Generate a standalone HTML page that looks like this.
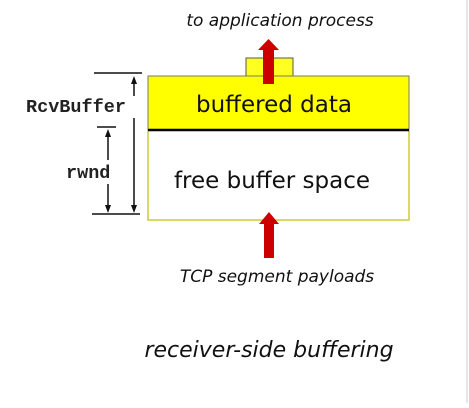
<!DOCTYPE html>
<html><head><style>
body{margin:0;background:#fff;width:469px;height:403px;overflow:hidden}
</style></head><body>
<svg width="469" height="403" xmlns="http://www.w3.org/2000/svg">
<line x1="467" y1="0" x2="467" y2="403" stroke="#ddd" stroke-width="1.5"/>
<text x="280" y="26" text-anchor="middle" font-family="DejaVu Sans, sans-serif" font-style="italic" font-size="17" fill="#111">to application process</text>
<rect x="246" y="58" width="47" height="19" fill="#ffff22" stroke="#555" stroke-width="1"/>
<rect x="148" y="76" width="261" height="54" fill="#ffff00" stroke="#777" stroke-width="1"/>
<rect x="148" y="130" width="261" height="90" fill="#fff" stroke="#cccc33" stroke-width="1.5"/>
<line x1="148" y1="130" x2="409" y2="130" stroke="#000" stroke-width="2.5"/>
<polygon points="263,84 274,84 274,50 279,50 268.5,39 258,50 263,50" fill="#cc0000"/>
<polygon points="264,258 274,258 274,224 279,224 269,212 259,224 264,224" fill="#cc0000"/>
<text x="274" y="112" text-anchor="middle" font-family="DejaVu Sans, sans-serif" font-size="23" fill="#111">buffered data</text>
<text x="272" y="188" text-anchor="middle" font-family="DejaVu Sans, sans-serif" font-size="23" fill="#111">free buffer space</text>
<g stroke="#111" stroke-width="1.5">
<line x1="94" y1="73" x2="142" y2="73"/>
<line x1="92" y1="214" x2="140" y2="214"/>
<line x1="134" y1="82" x2="134" y2="96"/>
<line x1="134" y1="118" x2="134" y2="205"/>
<line x1="97" y1="127" x2="116" y2="127"/>
<line x1="108" y1="136" x2="108" y2="160"/>
<line x1="108" y1="184" x2="108" y2="205"/>
</g>
<g fill="#111">
<polygon points="134,76 131,84 137,84"/>
<polygon points="134,213 131,205 137,205"/>
<polygon points="108,129 105,137 111,137"/>
<polygon points="108,213 105,205 111,205"/>
</g>
<text x="26" y="112" font-family="Liberation Mono, monospace" font-weight="bold" font-size="18.5" fill="#222">RcvBuffer</text>
<text x="66" y="178" font-family="Liberation Mono, monospace" font-weight="bold" font-size="18.5" fill="#222">rwnd</text>
<text x="277" y="282" text-anchor="middle" font-family="DejaVu Sans, sans-serif" font-style="italic" font-size="17" fill="#111">TCP segment payloads</text>
<text x="269" y="357" text-anchor="middle" font-family="DejaVu Sans, sans-serif" font-style="italic" font-size="22" fill="#111">receiver-side buffering</text>
</svg>
</body></html>
